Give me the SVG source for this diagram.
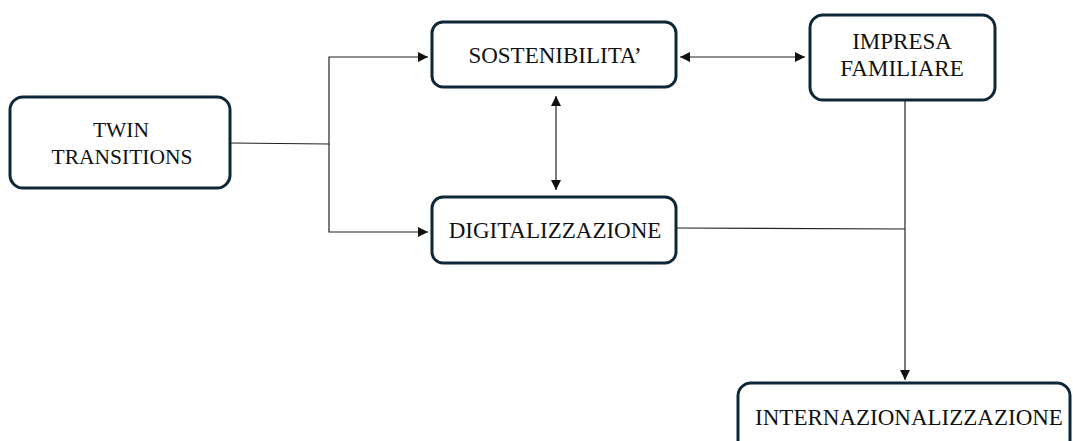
<svg xmlns="http://www.w3.org/2000/svg" width="1073" height="441" viewBox="0 0 1073 441">
<style>
.box{fill:#fff;stroke:#0e2838;stroke-width:3}
.t{font-family:"Liberation Serif","Times New Roman",serif;font-size:23px;fill:#111;text-anchor:middle}
.s{font-size:21.5px}
.c{fill:none;stroke:#222;stroke-width:1.2}
</style>
<defs>
<marker id="ah" viewBox="0 0 10 10" refX="10" refY="5" markerWidth="10" markerHeight="10" markerUnits="userSpaceOnUse" orient="auto-start-reverse">
<path d="M0,0 L10,5 L0,10 z" fill="#111"/>
</marker>
</defs>
<rect width="1073" height="441" fill="#fff"/>
<g id="connectors">
<polyline class="c" points="231,143 329,144 329,57 428,57" marker-end="url(#ah)"/>
<polyline class="c" points="329,144 329,232 428,232" marker-end="url(#ah)"/>
<line class="c" x1="680" y1="57" x2="805" y2="57" marker-start="url(#ah)" marker-end="url(#ah)"/>
<line class="c" x1="556" y1="96" x2="556" y2="190" marker-start="url(#ah)" marker-end="url(#ah)"/>
<line class="c" x1="677" y1="228" x2="905" y2="229"/>
<line class="c" x1="905" y1="100" x2="905" y2="380" marker-end="url(#ah)"/>
</g>
<g id="twin">
<rect class="box" x="10" y="97" width="220" height="91" rx="13"/>
<text class="t s" x="121" y="137">TWIN</text>
<text class="t s" x="122" y="164">TRANSITIONS</text>
</g>
<g id="sostenibilita">
<rect class="box" x="432" y="22" width="244" height="65" rx="11"/>
<text class="t" x="555" y="63">SOSTENIBILITA’</text>
</g>
<g id="impresa">
<rect class="box" x="810" y="15" width="185" height="85" rx="13"/>
<text class="t" x="902" y="49">IMPRESA</text>
<text class="t" x="902" y="76">FAMILIARE</text>
</g>
<g id="digitalizzazione">
<rect class="box" x="432" y="197" width="244" height="66" rx="11"/>
<text class="t" x="555" y="238">DIGITALIZZAZIONE</text>
</g>
<g id="internazionalizzazione">
<rect class="box" x="738" y="383" width="332" height="80" rx="13"/>
<text class="t" x="909" y="425">INTERNAZIONALIZZAZIONE</text>
</g>
</svg>
